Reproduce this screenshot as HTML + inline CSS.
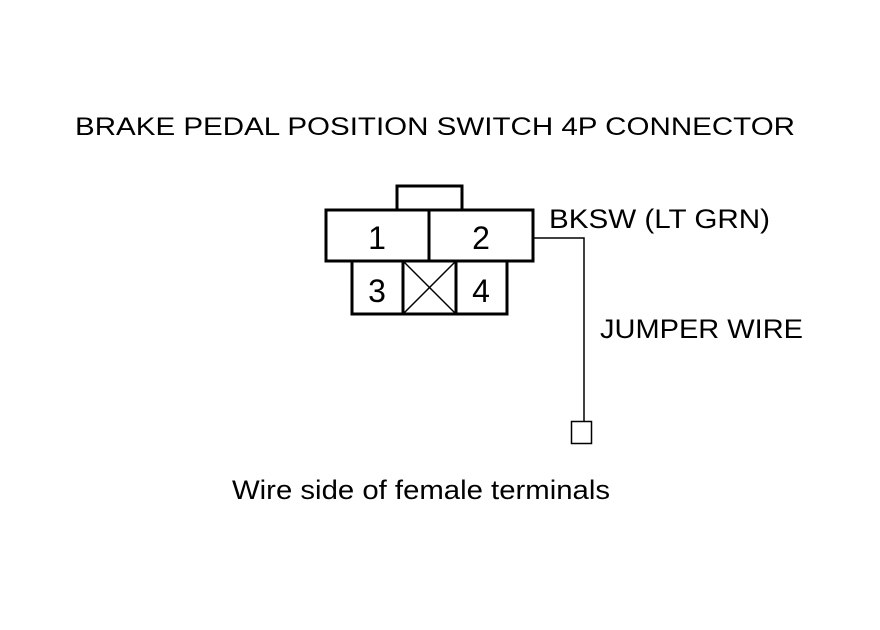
<!DOCTYPE html>
<html><head><style>html,body{margin:0;padding:0;background:#fff;}svg{display:block;}</style></head>
<body>
<svg width="880" height="630" viewBox="0 0 880 630" xmlns="http://www.w3.org/2000/svg" font-family="Liberation Sans, Arial, sans-serif" fill="#000">
<rect width="880" height="630" fill="#fff"/>
<text x="75" y="135" font-size="25" textLength="720" lengthAdjust="spacingAndGlyphs">BRAKE PEDAL POSITION SWITCH 4P CONNECTOR</text>
<g fill="none" stroke="#000" stroke-width="3">
<polyline points="397,210 397,186 462,186 462,210"/>
<rect x="326" y="210" width="207" height="51"/>
<line x1="429" y1="210" x2="429" y2="261"/>
<rect x="352" y="261" width="155" height="53"/>
<line x1="403" y1="261" x2="403" y2="314"/>
<line x1="456" y1="261" x2="456" y2="314"/>
</g>
<g stroke="#000" stroke-width="1.5" fill="none">
<line x1="403" y1="261" x2="456" y2="314"/>
<line x1="456" y1="261" x2="403" y2="314"/>
<polyline points="533,238 584,238 584,421"/>
<rect x="571.5" y="421.5" width="20" height="22"/>
</g>
<g font-size="32" text-anchor="middle">
<text x="377" y="249">1</text>
<text x="481" y="249">2</text>
<text x="377" y="302">3</text>
<text x="481" y="302">4</text>
</g>
<text x="549" y="228" font-size="27" textLength="221" lengthAdjust="spacingAndGlyphs">BKSW (LT GRN)</text>
<text x="600" y="338" font-size="27" textLength="203" lengthAdjust="spacingAndGlyphs">JUMPER WIRE</text>
<text x="232" y="499" font-size="27" textLength="378" lengthAdjust="spacingAndGlyphs">Wire side of female terminals</text>
</svg>
</body></html>
